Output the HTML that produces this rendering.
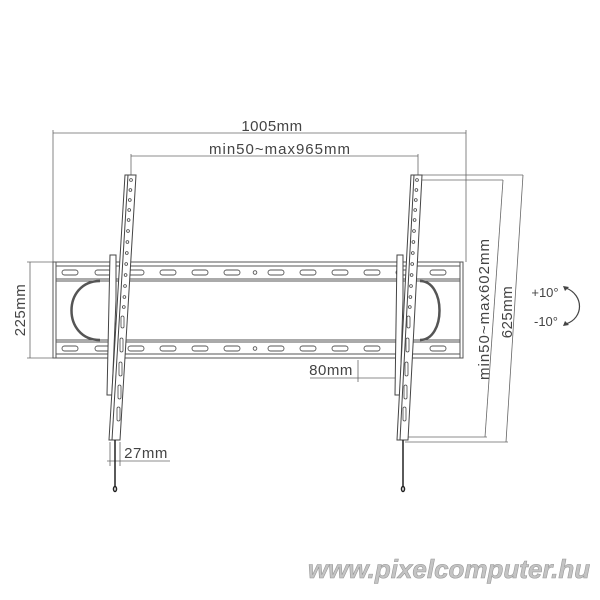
<!DOCTYPE html>
<html><head><meta charset="utf-8"><style>
html,body{margin:0;padding:0;background:#fff;}
svg{display:block;}
text{font-family:"Liberation Sans",sans-serif;fill:#444;}
</style></head><body>
<svg width="600" height="600" viewBox="0 0 600 600" xmlns="http://www.w3.org/2000/svg">
<g stroke="#666" stroke-width="0.8" fill="none">
  <line x1="53" y1="133" x2="466" y2="133"/>
  <line x1="53" y1="130" x2="53" y2="262"/>
  <line x1="466" y1="130" x2="466" y2="262"/>
  <line x1="131" y1="156" x2="418" y2="156"/>
  <line x1="131" y1="154" x2="131" y2="178"/>
  <line x1="418" y1="154" x2="418" y2="178"/>
  <line x1="30" y1="262" x2="30" y2="358"/>
  <line x1="27" y1="262" x2="53" y2="262"/>
  <line x1="27" y1="358" x2="53" y2="358"/>
  <line x1="420" y1="175" x2="523" y2="175"/>
  <line x1="420" y1="180" x2="503" y2="180"/>
  <line x1="503" y1="180" x2="485" y2="437"/>
  <line x1="523" y1="175" x2="506" y2="442"/>
  <line x1="405" y1="437" x2="487" y2="437"/>
  <line x1="405" y1="442" x2="508" y2="442"/>
  <line x1="310" y1="378" x2="402" y2="378"/>
  <line x1="358" y1="360" x2="358" y2="382"/>
  <line x1="107" y1="461" x2="170" y2="461"/>
  <line x1="110" y1="442" x2="110" y2="466"/>
  <line x1="120" y1="442" x2="120" y2="466"/>
</g>
<g stroke="#555" stroke-width="1" fill="#fff">
  <rect x="53" y="262" width="410" height="96"/>
  <line x1="56" y1="262" x2="56" y2="358"/>
  <line x1="460" y1="262" x2="460" y2="358"/>
  <line x1="56" y1="266" x2="460" y2="266"/>
  <line x1="56" y1="279" x2="460" y2="279"/>
  <line x1="56" y1="281" x2="460" y2="281"/>
  <line x1="56" y1="340" x2="460" y2="340"/>
  <line x1="56" y1="342" x2="460" y2="342"/>
  <line x1="56" y1="354" x2="460" y2="354"/>
  <path d="M100 281 C62 281 62 340 100 340" stroke-width="2.5" fill="none"/>
  <path d="M100 283 C66 283 66 338 100 338" stroke-width="0.8" fill="none" stroke="#fff"/>
  <path d="M420 281 C446 281 446 340 420 340" stroke-width="2.5" fill="none"/>
  <path d="M420 283 C443 283 443 338 420 338" stroke-width="0.8" fill="none" stroke="#fff"/>
</g>
<g stroke="#555" stroke-width="0.9" fill="#fff">
  <rect x="62" y="270" width="16" height="5" rx="2.5"/><rect x="95" y="270" width="16" height="5" rx="2.5"/>
  <rect x="128" y="270" width="16" height="5" rx="2.5"/><rect x="160" y="270" width="16" height="5" rx="2.5"/>
  <rect x="192" y="270" width="16" height="5" rx="2.5"/><rect x="224" y="270" width="16" height="5" rx="2.5"/>
  <circle cx="255" cy="272.5" r="1.8"/>
  <rect x="268" y="270" width="16" height="5" rx="2.5"/><rect x="300" y="270" width="16" height="5" rx="2.5"/>
  <rect x="332" y="270" width="16" height="5" rx="2.5"/><rect x="364" y="270" width="16" height="5" rx="2.5"/>
  <rect x="396" y="270" width="16" height="5" rx="2.5"/><rect x="430" y="270" width="16" height="5" rx="2.5"/>
  <rect x="62" y="346" width="16" height="5" rx="2.5"/><rect x="95" y="346" width="16" height="5" rx="2.5"/>
  <rect x="128" y="346" width="16" height="5" rx="2.5"/><rect x="160" y="346" width="16" height="5" rx="2.5"/>
  <rect x="192" y="346" width="16" height="5" rx="2.5"/><rect x="224" y="346" width="16" height="5" rx="2.5"/>
  <circle cx="255" cy="348.5" r="1.8"/>
  <rect x="268" y="346" width="16" height="5" rx="2.5"/><rect x="300" y="346" width="16" height="5" rx="2.5"/>
  <rect x="332" y="346" width="16" height="5" rx="2.5"/><rect x="364" y="346" width="16" height="5" rx="2.5"/>
  <rect x="396" y="346" width="16" height="5" rx="2.5"/><rect x="430" y="346" width="16" height="5" rx="2.5"/>
</g>
<g stroke="#444" stroke-width="1" fill="#fff">
  <polygon points="110,255 116,255 116,300 112,395 107,395"/>
  <polygon points="125,175 136,175 120,440 109,440"/>
  <line x1="128" y1="175" x2="112" y2="440"/>
  <polygon points="397,255 403,255 403,300 400,395 395,395"/>
  <polygon points="411,175 422,175 408,440 397,440"/>
  <line x1="414" y1="175" x2="400" y2="440"/>
</g>
<g stroke="#444" stroke-width="0.8" fill="#fff">
  <circle cx="131" cy="180" r="1.4"/><circle cx="130.4" cy="190" r="1.4"/><circle cx="129.8" cy="200" r="1.4"/>
  <circle cx="129.2" cy="210" r="1.4"/><circle cx="128.6" cy="220" r="1.4"/><circle cx="128" cy="231" r="1.4"/>
  <circle cx="127.4" cy="242" r="1.4"/><circle cx="126.8" cy="253" r="1.4"/><circle cx="126.2" cy="264" r="1.4"/>
  <circle cx="125.6" cy="275" r="1.4"/><circle cx="125" cy="286" r="1.4"/><circle cx="124.4" cy="297" r="1.4"/>
  <circle cx="123.8" cy="307" r="1.4"/>
  <rect x="121" y="316" width="3" height="12" rx="1.5"/><rect x="120" y="338" width="3" height="14" rx="1.5"/>
  <rect x="119" y="362" width="3" height="14" rx="1.5"/><rect x="118" y="385" width="3" height="14" rx="1.5"/>
  <rect x="117" y="407" width="3" height="14" rx="1.5"/>
  <circle cx="417" cy="180" r="1.4"/><circle cx="416.4" cy="190" r="1.4"/><circle cx="415.8" cy="200" r="1.4"/>
  <circle cx="415.2" cy="210" r="1.4"/><circle cx="414.6" cy="220" r="1.4"/><circle cx="414" cy="231" r="1.4"/>
  <circle cx="413.4" cy="242" r="1.4"/><circle cx="412.8" cy="253" r="1.4"/><circle cx="412.2" cy="264" r="1.4"/>
  <circle cx="411.6" cy="275" r="1.4"/><circle cx="411" cy="286" r="1.4"/><circle cx="410.4" cy="297" r="1.4"/>
  <circle cx="409.8" cy="307" r="1.4"/>
  <rect x="407" y="316" width="3" height="12" rx="1.5"/><rect x="406" y="338" width="3" height="14" rx="1.5"/>
  <rect x="405" y="362" width="3" height="14" rx="1.5"/><rect x="404" y="385" width="3" height="14" rx="1.5"/>
  <rect x="403" y="407" width="3" height="14" rx="1.5"/>
</g>
<g stroke="#222" stroke-width="1.5" fill="none">
  <line x1="115" y1="440" x2="115" y2="487"/>
  <ellipse cx="115" cy="489" rx="1.5" ry="2.5"/>
  <line x1="403" y1="440" x2="403" y2="487"/>
  <ellipse cx="403" cy="489" rx="1.5" ry="2.5"/>
</g>
<path d="M566 288 C584 295 584 318 566 324" stroke="#444" stroke-width="1.2" fill="none"/>
<path d="M563 286 L569 287 L565 291 Z M563 326 L569 325 L565 321 Z" fill="#444"/>
<text x="272" y="131" font-size="15" letter-spacing="0.5" text-anchor="middle">1005mm</text>
<text x="280" y="154" font-size="15" letter-spacing="1" text-anchor="middle">min50~max965mm</text>
<text x="25" y="310" font-size="15" letter-spacing="0.5" text-anchor="middle" transform="rotate(-90 25 310)">225mm</text>
<text x="331" y="375" font-size="15" letter-spacing="0.5" text-anchor="middle">80mm</text>
<text x="146" y="458" font-size="15" letter-spacing="0.5" text-anchor="middle">27mm</text>
<text x="489" y="309" font-size="15" letter-spacing="1" text-anchor="middle" transform="rotate(-90 489 309)">min50~max602mm</text>
<text x="512" y="312" font-size="15" letter-spacing="0.5" text-anchor="middle" transform="rotate(-90 512 312)">625mm</text>
<text x="545" y="297" font-size="13" text-anchor="middle">+10°</text>
<text x="546" y="326" font-size="13" text-anchor="middle">-10°</text>
<text x="449" y="578" font-size="26" font-weight="bold" font-style="italic" text-anchor="middle" style="fill:#c4c4c4;stroke:#999;stroke-width:0.6">www.pixelcomputer.hu</text>
</svg>
</body></html>
